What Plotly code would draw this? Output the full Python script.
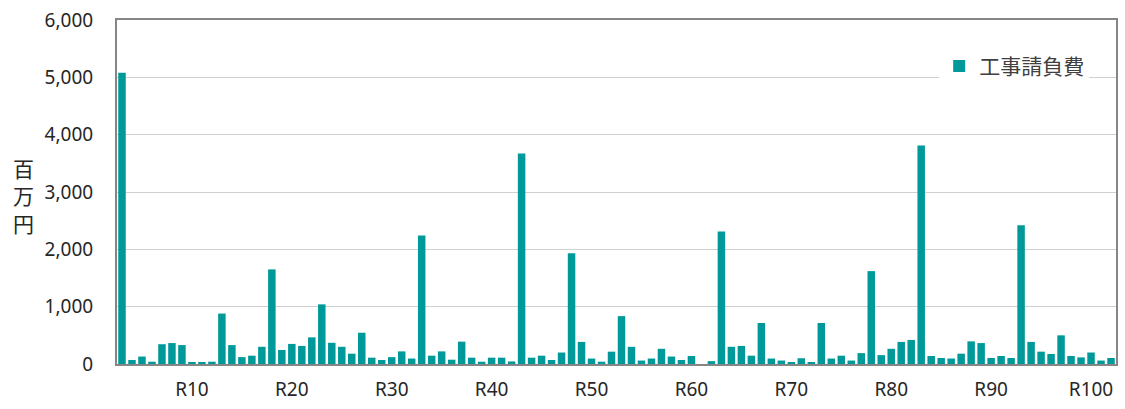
import plotly.graph_objects as go

# Category labels (one bar per item) and the labels shown on the x axis
categories = [f"R{i}" for i in range(3, 103)]
tick_labels = ["R10", "R20", "R30", "R40", "R50", "R60", "R70", "R80", "R90", "R100"]

# 工事請負費 (百万円)
construction_cost = [
    5080, 70, 130, 40, 345, 365, 330, 25, 25, 40,
    880, 330, 120, 145, 300, 1650, 245, 350, 315, 465,
    1040, 370, 300, 180, 545, 110, 70, 120, 220, 95,
    2240, 145, 220, 75, 390, 110, 40, 110, 110, 45,
    3670, 110, 145, 70, 200, 1930, 385, 95, 40, 215,
    835, 300, 60, 95, 265, 130, 70, 140, 0, 50,
    2310, 300, 315, 145, 715, 95, 60, 35, 100, 25,
    715, 95, 145, 60, 190, 1620, 155, 265, 385, 420,
    3810, 140, 105, 95, 180, 395, 365, 105, 140, 105,
    2420, 385, 215, 175, 500, 140, 115, 200, 60, 105,
]
y_ticks = [0, 1000, 2000, 3000, 4000, 5000, 6000]

TEAL = "#009999"
TEXT = "#262626"
GRID = "#d0d0d0"
FRAME = "#868686"
FONT = "Noto Sans, Noto Sans CJK JP, sans-serif"
CJK = "Noto Sans CJK JP, sans-serif"

fig = go.Figure(
    go.Bar(
        x=categories,
        y=construction_cost,
        name="工事請負費",
        marker=dict(color=TEAL, line=dict(width=0)),
    )
)

fig.update_layout(
    width=1125,
    height=409,
    margin=dict(l=117, r=7, t=20, b=43),
    paper_bgcolor="white",
    plot_bgcolor="white",
    bargap=0.25,
    font=dict(family=FONT, size=19, color=TEXT),
    showlegend=True,
    legend=dict(
        x=0.823,
        y=0.925,
        xanchor="left",
        yanchor="top",
        bgcolor="white",
        borderwidth=0,
        font=dict(family=CJK, size=21, color="#404040"),
    ),
    annotations=[
        dict(
            text="百<br>万<br>円",
            xref="paper",
            yref="paper",
            x=-94 / 1001,
            y=0.49,
            xanchor="center",
            yanchor="middle",
            showarrow=False,
            font=dict(family=CJK, size=21, color=TEXT),
        )
    ],
)

fig.update_xaxes(
    type="category",
    tickmode="array",
    tickvals=tick_labels,
    ticktext=tick_labels,
    showgrid=False,
    ticks="",
    showline=True,
    linecolor=FRAME,
    linewidth=2,
    mirror=True,
    ticklabelstandoff=7,
    tickfont=dict(family=FONT, size=19, color=TEXT),
)

fig.update_yaxes(
    range=[0, 6000],
    tickvals=y_ticks,
    tickformat=",d",
    showgrid=True,
    gridcolor=GRID,
    gridwidth=1,
    zeroline=False,
    showline=True,
    linecolor=FRAME,
    linewidth=2,
    mirror=True,
    ticks="",
    ticklabelstandoff=18,
    tickfont=dict(family=FONT, size=19, color=TEXT),
)

fig.write_html("out.html")
